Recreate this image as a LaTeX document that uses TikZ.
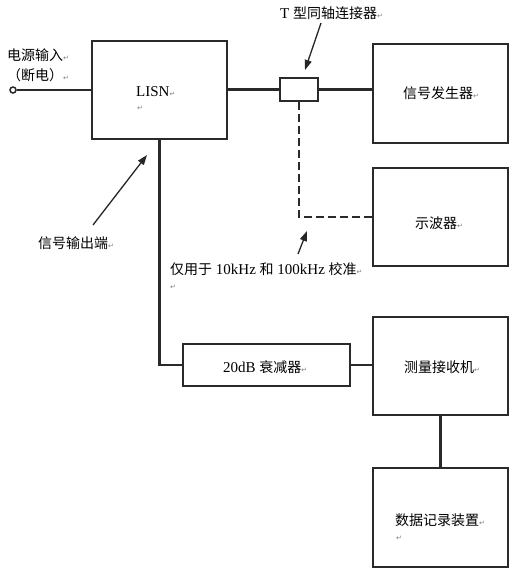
\documentclass[tikz,border=0pt]{standalone}
\usepackage{fontspec}
\setmainfont{Liberation Serif}
\newfontfamily\cjkf{Noto Sans CJK SC}
\newcommand{\cjk}{\cjkf\fontsize{14}{16}\selectfont}
\newfontfamily\symf{DejaVu Sans}
\usetikzlibrary{arrows.meta}
\definecolor{ln}{HTML}{2A2A2A}
\newcommand{\parmark}{{\symf\fontsize{7}{8}\selectfont\textcolor{gray}{↵}}}
\tikzset{
  box/.style={draw=ln, line width=1.5pt, rectangle, inner sep=0pt, fill=white},
  conn/.style={draw=ln, line width=2.1pt},
  pointer/.style={draw=black!85, line width=1.3pt, -{Triangle[length=10pt,width=7pt]}},
  lbl/.style={inner sep=0pt, anchor=west, font=\fontsize{15}{17}\selectfont},
}
\begin{document}
\begin{tikzpicture}[x=1pt,y=1pt]
\useasboundingbox (0,0) rectangle (528,-573);
\fill[white] (0,0) rectangle (528,-573);

% boxes
\node[box, minimum width=135pt, minimum height=98pt] (lisn) at (159.5,-90) {};
\node[box, minimum width=38pt, minimum height=23pt] (tcon) at (299,-89.5) {};
\node[box, minimum width=135pt, minimum height=99pt] (sig) at (440.5,-93.5) {};
\node[box, minimum width=135pt, minimum height=98pt] (osc) at (440.5,-217) {};
\node[box, minimum width=167pt, minimum height=42pt] (att) at (266.5,-365) {};
\node[box, minimum width=135pt, minimum height=98pt] (rec) at (440.5,-366) {};
\node[box, minimum width=135pt, minimum height=99pt] (dat) at (440.5,-517.5) {};

% input terminal
\node[draw=ln, line width=1.5pt, circle, inner sep=0pt, minimum size=6pt, fill=white] (inp) at (13,-90) {};

% connectors
\draw[conn] (inp) -- (inp -| lisn.west);
\draw[conn] (tcon.west -| lisn.east) -- (tcon.west);
\draw[conn] (tcon.east) -- (tcon.east -| sig.west);
\draw[conn, dash pattern=on 8pt off 4pt] (tcon.south) |- (osc.west);
\draw[conn] (lisn.south) |- (att.west);
\draw[conn] (att.east) -- (att.east -| rec.west);
\draw[conn] (rec.south) -- (dat.north);

% labels
\node[lbl] (l1) at (7,-55) {\cjk 电源输入\parmark};
\node[lbl] (l2) at (7,-75) {\cjk （断电）\parmark};
\node[lbl] (lt) at (136,-92) {LISN\parmark};
\node[lbl] (lt2) at (137,-108) {\parmark};
\node[lbl] (ltc) at (280,-13) {T {\cjk 型同轴连接器}\parmark};
\node[lbl] (lso) at (38,-243) {\cjk 信号输出端\parmark};
\node[lbl] (lcal) at (170,-269) {{\cjk 仅用于} 10kHz {\cjk 和} 100kHz {\cjk 校准}\parmark};
\node[lbl] (lcal2) at (170,-287) {\parmark};
\node[lbl] (latt) at (223,-367) {20dB {\cjk 衰减器}\parmark};
\node[lbl] (lsig) at (403,-93) {\cjk 信号发生器\parmark};
\node[lbl] (losc) at (415,-223) {\cjk 示波器\parmark};
\node[lbl] (lrec) at (404,-367) {\cjk 测量接收机\parmark};
\node[lbl] (ldat) at (395,-520) {\cjk 数据记录装置\parmark};
\node[lbl] (ldat2) at (396,-538) {\parmark};

% pointer arrows
\coordinate (a1s) at (321,-23);
\coordinate (a1e) at (305,-70);
\coordinate (a2s) at (93,-225);
\coordinate (a2e) at (147,-155);
\coordinate (a3s) at (298,-254);
\coordinate (a3e) at (307,-231);
\draw[pointer] (a1s) -- (a1e);
\draw[pointer] (a2s) -- (a2e);
\draw[pointer] (a3s) -- (a3e);
\end{tikzpicture}
\end{document}
